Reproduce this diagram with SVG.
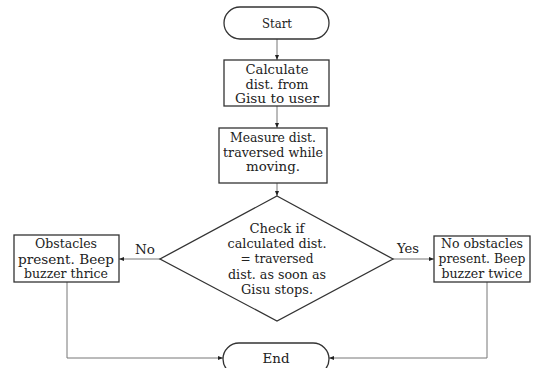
<svg xmlns="http://www.w3.org/2000/svg" width="539" height="368" viewBox="0 0 539 368">
<defs>
<style>
.shape{fill:#fff;stroke:#333;stroke-width:1.3}
.line{fill:none;stroke:#777;stroke-width:1}
.t{font-family:'DejaVu Serif',serif;font-size:12.5px;fill:#222;text-anchor:middle}
</style>
<marker id="arr" viewBox="0 0 10 10" refX="10" refY="5" markerWidth="5" markerHeight="5" orient="auto" markerUnits="userSpaceOnUse">
<path d="M0,1 L10,5 L0,9 Z" fill="#222"/>
</marker>
</defs>
<rect width="539" height="368" fill="#fff"/>
<g id="connectors">
<line class="line" x1="277" y1="39" x2="277" y2="60" marker-end="url(#arr)"/>
<line class="line" x1="277" y1="106" x2="277" y2="128" marker-end="url(#arr)"/>
<line class="line" x1="277" y1="183" x2="277" y2="196" marker-end="url(#arr)"/>
<line class="line" x1="160" y1="259" x2="119" y2="259" marker-end="url(#arr)"/>
<line class="line" x1="393" y1="259" x2="434" y2="259" marker-end="url(#arr)"/>
<polyline class="line" points="67,282 67,358 223,358" marker-end="url(#arr)"/>
<polyline class="line" points="487,282 487,358 329,358" marker-end="url(#arr)"/>
<text class="t" x="145" y="254" textLength="20" lengthAdjust="spacingAndGlyphs">No</text>
<text class="t" x="408" y="253" textLength="22" lengthAdjust="spacingAndGlyphs">Yes</text>
</g>
<g id="start">
<rect class="shape" x="224" y="7" width="105" height="32" rx="16"/>
<text class="t" x="277" y="28" textLength="30" lengthAdjust="spacingAndGlyphs">Start</text>
</g>
<g id="calc">
<rect class="shape" x="224" y="60" width="105" height="46"/>
<text class="t" x="277" y="74" textLength="63" lengthAdjust="spacingAndGlyphs">Calculate</text>
<text class="t" x="277" y="89" textLength="63" lengthAdjust="spacingAndGlyphs">dist. from</text>
<text class="t" x="277" y="103" textLength="84" lengthAdjust="spacingAndGlyphs">Gisu to user</text>
</g>
<g id="measure">
<rect class="shape" x="219" y="128" width="108" height="55"/>
<text class="t" x="273" y="142" textLength="86" lengthAdjust="spacingAndGlyphs">Measure dist.</text>
<text class="t" x="273" y="157" textLength="100" lengthAdjust="spacingAndGlyphs">traversed while</text>
<text class="t" x="273" y="171" textLength="54" lengthAdjust="spacingAndGlyphs">moving.</text>
</g>
<g id="check">
<polygon class="shape" points="277,196 393,259 277,321 160,259"/>
<text class="t" x="277" y="233" textLength="55" lengthAdjust="spacingAndGlyphs">Check if</text>
<text class="t" x="277" y="248" textLength="99" lengthAdjust="spacingAndGlyphs">calculated dist.</text>
<text class="t" x="277" y="263" textLength="73" lengthAdjust="spacingAndGlyphs">= traversed</text>
<text class="t" x="277" y="279" textLength="98" lengthAdjust="spacingAndGlyphs">dist. as soon as</text>
<text class="t" x="277" y="294" textLength="72" lengthAdjust="spacingAndGlyphs">Gisu stops.</text>
</g>
<g id="obstacles">
<rect class="shape" x="14" y="235" width="105" height="47"/>
<text class="t" x="66" y="248" textLength="62" lengthAdjust="spacingAndGlyphs">Obstacles</text>
<text class="t" x="66" y="264" textLength="96" lengthAdjust="spacingAndGlyphs">present. Beep</text>
<text class="t" x="66" y="278" textLength="84" lengthAdjust="spacingAndGlyphs">buzzer thrice</text>
</g>
<g id="noobstacles">
<rect class="shape" x="434" y="236" width="96" height="46"/>
<text class="t" x="482" y="248" textLength="82" lengthAdjust="spacingAndGlyphs">No obstacles</text>
<text class="t" x="482" y="263" textLength="87" lengthAdjust="spacingAndGlyphs">present. Beep</text>
<text class="t" x="482" y="278" textLength="81" lengthAdjust="spacingAndGlyphs">buzzer twice</text>
</g>
<g id="end">
<rect class="shape" x="223" y="343" width="106" height="32" rx="16"/>
<text class="t" x="276" y="363" textLength="27" lengthAdjust="spacingAndGlyphs">End</text>
</g>
</svg>
